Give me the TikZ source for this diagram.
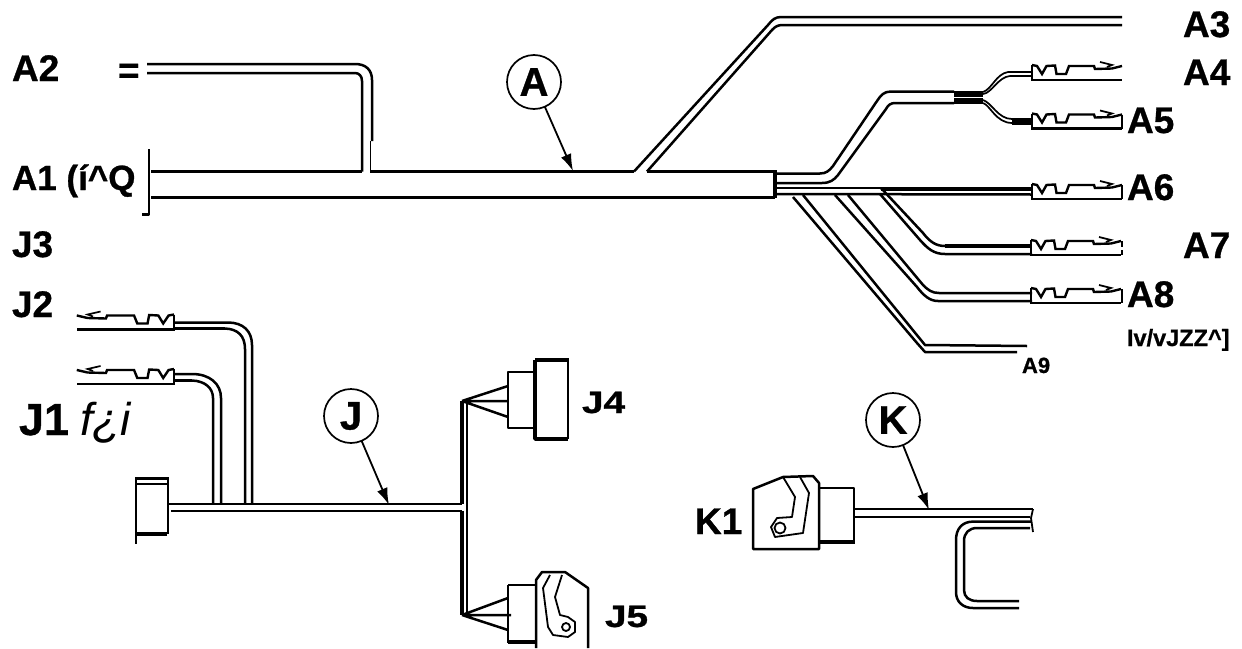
\documentclass[tikz,border=0pt]{standalone}
\usepackage{fontspec}
\setmainfont{Liberation Sans}[BoldFeatures={FakeBold=0.8}]
\usetikzlibrary{arrows.meta}
\newcommand{\fs}[1]{\fontsize{#1}{#1}\selectfont}
\tikzset{
  wire/.style={line width=2.5pt,line join=round},
  heavy/.style={line width=3.6pt,line join=round},
  thinw/.style={line width=1.8pt,line join=round},
  lab/.style={anchor=base west,inner sep=0pt,outer sep=0pt,font=\bfseries\fs{37}},
  bubble/.style={circle,draw,line width=1.7pt,minimum size=54pt,inner sep=0pt,font=\bfseries\fs{40}},
  lead/.style={line width=1.8pt,-{Latex[length=17pt,width=11pt]},shorten <=-1pt},
  termpart/.style={line width=2.4pt,line join=miter},
}
\newcommand{\terminal}[3]{% x, bottom y, mirror factor
  \begin{scope}[shift={(#1,#2)},xscale=#3]
    \draw[termpart] (0,-15) -- (0,0) -- (90,0);
    \draw[termpart] (0,-15) -- (5,-14) -- (10,-6) -- (14.5,-14) -- (23,-14.5) -- (24.5,-6) -- (34,-6) -- (37,-14) -- (62,-14) -- (63,-11) -- (80,-11.5) -- (90,-14);
    \draw[line width=1.7pt] (68,-18) -- (80,-15) -- (75,-13);
  \end{scope}}
\begin{document}
\begin{tikzpicture}[x=1pt,y=-1pt]
\useasboundingbox (0,0) rectangle (1242,648);
% main harness A
\draw[heavy] (151,197.5) -- (775,197.5);
\draw[wire] (151,171.5) -- (362,171.5);
\draw[wire] (370,171.5) -- (634,171.5);
\draw[wire] (647,171.5) -- (775,171.5);
\draw[wire] (142,214.5) -- (149,214.5) -- (149,149);
\draw[heavy] (775,170) -- (775,198);
% A2
\draw[wire] (147,64) -- (355,64) .. controls (366,64) and (372,70) .. (372,80) -- (372,141);
\draw[thinw] (370.5,141) -- (370.5,171.5);
\draw[wire] (147,73) -- (355,73) .. controls (359,73) and (362,76) .. (362,81) -- (362,171.5);
% A3
\draw[wire] (634,171.5) -- (768,25) .. controls (772,20) and (775,17) .. (781,17) -- (1122,17);
\draw[wire] (647,171.5) -- (772,30) .. controls (775,26.5) and (778,25) .. (783,25) -- (1122,25);
% A4/A5 branch
\draw[wire] (775,173.5) -- (820,173.5) .. controls (826,173.5) and (829,171) .. (833,166) -- (877,101) .. controls (881,95) and (884,91.5) .. (891,91.5) -- (954,91.5);
\draw[wire] (775,183) -- (822,183) .. controls (830,183) and (834,180) .. (838,175) -- (886,109) .. controls (888,105) and (891,103) .. (895,103) -- (954,103);
\fill (954,90.5) rectangle (983,104);
\draw[white,line width=.8pt] (954,97) -- (983,97);
\draw[line width=1.7pt] (983,92) .. controls (992,89) and (996,74) .. (1008,72) -- (1032,72);
\draw[line width=1.7pt] (983,94) .. controls (992,93) and (998,77) .. (1010,76) -- (1032,76);
\draw[line width=1.7pt] (983,100) .. controls (992,103) and (998,119) .. (1012,119);
\draw[line width=1.7pt] (983,103) .. controls (990,105) and (996,123) .. (1012,123);
\fill (1012,117.5) rectangle (1032,124.5);
% A6
\draw[wire] (775,188) -- (881,188);
\draw[heavy] (881,189) -- (1032,189);
\draw[wire] (775,194) -- (1032,194.5);
% A7
\draw[wire] (881,188) -- (923,233) .. controls (930,242) and (936,246) .. (945,246);
\draw[heavy] (945,246) -- (1032,246);
\draw[wire] (880,194) -- (920,240) .. controls (928,249) and (934,254) .. (945,254) -- (1032,254);
% A8
\draw[wire] (848,195) -- (923,285) .. controls (928,290) and (932,293) .. (939,293) -- (1032,293);
\draw[wire] (835,195) -- (917,287) .. controls (924,296) and (930,301) .. (938,301) -- (1032,301);
% A9
\draw[wire] (803,195) -- (925,345) -- (1027,346);
\draw[wire] (793,197) -- (917,343) -- (925,352) -- (1017,352);
% terminals A
\terminal{1032}{80}{1}
\terminal{1032}{128.5}{1}
\draw[wire] (1122,114.5) -- (1122,128.5);
\terminal{1032}{199}{1}
\draw[wire] (1122,185) -- (1122,199);
\terminal{1031}{255}{1}
\draw[wire] (1122,241) -- (1122,247) (1122,250) -- (1122,255);
\terminal{1031}{303}{1}
\draw[wire] (1122,289) -- (1122,303);
% J terminals
\terminal{174}{329.5}{-1.08}
\terminal{174}{384}{-1.08}
% J2, J1 wires
\draw[wire] (174,322.5) -- (228,322.5) .. controls (243,322.5) and (252,331) .. (252,345) -- (252,504);
\draw[heavy] (174,328.5) -- (225,328.5);
\draw[wire] (225,328.5) .. controls (238,329) and (245,336) .. (245,349) -- (245,504);
\draw[wire] (174,374) -- (192,374) .. controls (210,374) and (221,384) .. (221,398) -- (221,504);
\draw[heavy] (174,380.5) -- (192,380.5);
\draw[wire] (192,380.5) .. controls (205,381) and (213,388) .. (213,398) -- (213,504);
% J main
\draw[wire] (169,504) -- (462,504);
\draw[wire] (171,511) -- (462,511);
% J connector
\draw[line width=1.2pt] (136,477) -- (136,544);
\draw[wire] (136,484) -- (168,484);
\draw[wire] (168,477) -- (168,534);
\fill (136,477) rectangle (168,480);
\fill (136,531.5) rectangle (167,536);
% J trunk
\draw[heavy] (462,401) -- (462,504) (462,511) -- (462,615);
\draw[wire] (467,401) -- (467,615);
% J4
\draw[wire] (508,372) rectangle (534,428);
\draw[heavy] (535,360) -- (569,360);
\draw[heavy] (535,360) -- (535,439) -- (568,439);
\draw[wire] (568,360) -- (568,439);
\draw[wire] (462,401) -- (508,386) (462,401) -- (508,401) (462,401) -- (508,417);
% J5
\draw[wire] (508,585) -- (536,585);
\draw[wire] (508,585) -- (508,643);
\draw[heavy] (508,642) -- (536,642);
\draw[wire] (536,648) -- (536,580) -- (542,572) -- (565,572) -- (588,588) -- (588,648);
\draw[thinw] (550,575) -- (543,588) -- (548,627) -- (553,635) -- (568,637) -- (575,632) -- (575,622) -- (568,617) -- (560,615) -- (555,597) -- (562,575);
\draw[thinw] (566,627) circle (4);
\draw[wire] (462,615) -- (508,598) (462,615) -- (511,615) (462,615) -- (508,630);
% K1
\draw[wire] (753,549) -- (753,489) -- (783,477) -- (813,476) -- (819,483) -- (819,549) -- cycle;
\draw[wire] (819,488) -- (854,488) -- (854,543);
\fill (819,540) rectangle (855,544);
\draw[thinw] (783,477) -- (795,497) -- (792,517) -- (777,518) -- (771,527) -- (775,537) -- (803,533) -- (809,493) -- (800,477);
\draw[thinw] (780,528) circle (5.5);
% K wires
\draw[wire] (854,509) -- (1033,509);
\draw[wire] (854,517) -- (1030,517);
\draw[thinw] (1033,509) -- (1031,518) -- (1033,532);
\draw[wire] (1031,521.6) -- (973,521.6) .. controls (962,521.6) and (956,529) .. (956,540) -- (956,592) .. controls (956,602) and (963,608) .. (973,608) -- (1019,608);
\draw[wire] (1030,528) -- (977,528) .. controls (969,528) and (964,533) .. (964,541) -- (964,590) .. controls (964,597) and (969,601) .. (977,601) -- (1019,601);
% bubbles and leaders
\node[bubble] (bubA) at (534,82) {A};
\node[bubble] (bubJ) at (351,416) {J};
\node[bubble] (bubK) at (893,420) {K};
\coordinate (tipA) at (573,171);
\coordinate (tipJ) at (389,505);
\coordinate (tipK) at (929,510);
\draw[lead] (bubA) -- (tipA);
\draw[lead] (bubJ) -- (tipJ);
\draw[lead] (bubK) -- (tipK);
% labels
\node[lab] (lA2) at (12,81) {A2};
\node[lab] (lEq) at (118,83) {=};
\node[lab,font=\bfseries\fs{35}] (lA1) at (12,190) {A1 (í\^{}Q};
\node[lab] (lJ3) at (12,257) {J3};
\node[lab] (lJ2) at (12,317) {J2};
\node[lab,font=\bfseries\fs{45}] (lJ1) at (19,435) {J1};
\node[lab,font=\itshape\fs{46}] (lJ1b) at (80,435) {f¿i};
\node[lab] (lA3) at (1183,37) {A3};
\node[lab] (lA4) at (1183,85) {A4};
\node[lab] (lA5) at (1127,133) {A5};
\node[lab] (lA6) at (1127,200) {A6};
\node[lab] (lA7) at (1183,258) {A7};
\node[lab] (lA8) at (1127,307) {A8};
\node[lab,font=\bfseries\fs{23.5}] (lMW) at (1127,346) {Iv/vJZZ\^{}]};
\node[lab,font=\bfseries\fs{22}] (lA9) at (1022,373) {A9};
\node[lab,font=\bfseries\fs{31},xscale=1.25] (lJ4) at (582,413) {J4};
\node[lab,font=\bfseries\fs{31},xscale=1.25] (lJ5) at (605,627) {J5};
\node[lab] (lK1) at (695,534) {K1};
\end{tikzpicture}
\end{document}
